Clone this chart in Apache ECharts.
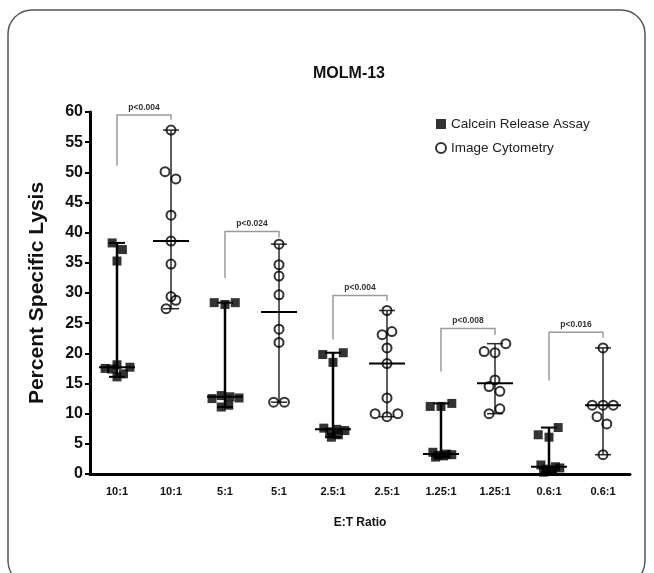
<!DOCTYPE html>
<html><head><meta charset="utf-8">
<script src="https://cdn.jsdelivr.net/npm/echarts@6/dist/echarts.min.js"></script>
<style>html,body{margin:0;padding:0;background:#fff}#c{width:654px;height:573px}</style>
</head><body><div id="c"></div>
<script>
const categories = ['10:1','10:1','5:1','5:1','2.5:1','2.5:1','1.25:1','1.25:1','0.6:1','0.6:1'];
const seriesNames = ['Calcein Release Assay','Image Cytometry'];
const yTicks = [0,5,10,15,20,25,30,35,40,45,50,55,60];

// Calcein Release Assay groups (categories 0,2,4,6,8)
const calceinValues = [
  [38.3, 37.2, 35.3, 18.1, 17.7, 17.5, 17.4, 16.6, 16.1],
  [28.4, 28.1, 28.4, 12.5, 13.0, 12.8, 12.6, 11.1, 11.4],
  [19.8, 20.1, 18.5, 7.6, 7.4, 7.2, 7.0, 6.5, 6.1],
  [11.2, 11.2, 11.7, 3.6, 3.3, 3.2, 3.1, 3.0, 2.8],
  [7.7, 6.5, 6.1, 1.5, 1.2, 1.0, 0.8, 0.6, 0.3]
];
const calceinJitter = [
  [-0.09, 0.1, 0, 0, 0.24, -0.22, -0.1, 0.12, 0],
  [-0.2, 0, 0.19, -0.24, -0.07, 0.09, 0.26, -0.07, 0.07],
  [-0.19, 0.19, 0, -0.17, 0.07, 0.22, -0.06, 0.1, -0.03],
  [-0.2, 0, 0.2, -0.15, 0.1, 0.2, -0.05, 0.05, -0.1],
  [0.17, -0.2, 0, -0.15, 0.12, 0.2, -0.05, 0.05, -0.1]
];
// Image Cytometry groups (categories 1,3,5,7,9)
const imageValues = [
  [57.0, 50.1, 48.9, 42.9, 38.6, 34.8, 29.4, 28.8, 27.4],
  [38.1, 34.7, 32.8, 29.7, 24.0, 21.8, 11.9, 11.9],
  [27.1, 23.6, 23.1, 20.9, 18.3, 12.6, 10.0, 9.5, 10.0],
  [21.6, 20.3, 20.1, 15.6, 14.5, 13.7, 10.8, 10.0],
  [20.9, 11.4, 11.4, 11.4, 9.5, 8.3, 3.2]
];
const imageJitter = [
  [0, -0.11, 0.09, 0, 0, 0, 0, 0.09, -0.09],
  [0, 0, 0, 0, 0, 0, -0.1, 0.1],
  [0, 0.09, -0.09, 0, 0, 0, -0.22, 0, 0.2],
  [0.2, -0.2, 0, 0, -0.11, 0.09, 0.09, -0.11],
  [0, -0.2, 0, 0.19, -0.11, 0.07, 0]
];
// significance brackets
const bracketLabels = ['p<0.004','p<0.024','p<0.004','p<0.008','p<0.016'];
const bracketLeftY = [51.1, 32.5, 22.3, 17.0, 15.5];
const bracketTopY = [59.5, 40.2, 29.6, 24.1, 23.5];
const bracketRightY = [58.7, 39.2, 28.7, 23.1, 22.6];

function median(a){const s=a.slice().sort((x,y)=>x-y);const n=s.length;return n%2?s[(n-1)/2]:(s[n/2-1]+s[n/2])/2;}

const calceinPts=[], imagePts=[], rangeData=[], bracketData=[];
calceinValues.forEach((g,i)=>{
  const cat=2*i;
  g.forEach((v,j)=>calceinPts.push([cat+calceinJitter[i][j], v]));
  rangeData.push([cat, Math.min(...g), median(g), Math.max(...g), 0]);
});
imageValues.forEach((g,i)=>{
  const cat=2*i+1;
  g.forEach((v,j)=>imagePts.push([cat+imageJitter[i][j], v]));
  rangeData.push([cat, Math.min(...g), median(g), Math.max(...g), 1]);
});
bracketLabels.forEach((l,i)=>bracketData.push([2*i, 2*i+1, bracketLeftY[i], bracketTopY[i], bracketRightY[i]]));

const FONT = 'Liberation Sans, Arial, sans-serif';
const chart = echarts.init(document.getElementById('c'), null, {renderer:'canvas'});
chart.setOption({
  animation:false,
  backgroundColor:'#fff',
  graphic:[
    {type:'rect', shape:{x:8,y:10,width:637,height:575,r:24}, style:{fill:'none',stroke:'#555',lineWidth:1.5}, z:-1},
    {type:'text', x:349, y:74, style:{text:'MOLM-13', fill:'#111', font:'bold 16px '+FONT, align:'center', verticalAlign:'middle'}}
  ],
  legend:{
    data:seriesNames, orient:'vertical', left:430, top:112, itemWidth:10, itemHeight:10, itemGap:10,
    textStyle:{fontSize:13.5, color:'#222', fontFamily:FONT}
  },
  grid:{left:90, right:24, top:112, bottom:99, containLabel:false},
  xAxis:[
    {type:'category', data:categories, boundaryGap:true,
     axisLine:{onZero:false, lineStyle:{color:'#000',width:3}},
     axisTick:{alignWithLabel:true, length:5, lineStyle:{color:'#000',width:2}},
     axisLabel:{color:'#111', fontWeight:'bold', fontSize:11, fontFamily:FONT, margin:12},
     name:'E:T Ratio', nameLocation:'middle', nameGap:43,
     nameTextStyle:{color:'#111', fontWeight:'bold', fontSize:12, fontFamily:FONT}},
    {type:'value', min:-0.5, max:9.5, show:false}
  ],
  yAxis:{type:'value', min:0, max:60, interval:5,
    axisLine:{show:true, onZero:false, lineStyle:{color:'#000',width:3}},
    axisTick:{show:true, length:5, lineStyle:{color:'#000',width:2}},
    splitLine:{show:false},
    axisLabel:{color:'#111', fontWeight:'bold', fontSize:16, fontFamily:FONT, margin:7,
      formatter:v=>yTicks.includes(v)?String(v):''},
    name:'Percent Specific Lysis', nameLocation:'middle', nameGap:42, nameRotate:90,
    nameTextStyle:{color:'#111', fontWeight:'bold', fontSize:21, fontFamily:FONT}},
  series:[
    {type:'custom', xAxisIndex:0, yAxisIndex:0, z:2, silent:true, data:rangeData,
     encode:{x:0, y:[1,2,3]},
     renderItem:(params, api)=>{
       const cat=api.value(0), kind=api.value(4);
       const pMin=api.coord([cat, api.value(1)]), pMed=api.coord([cat, api.value(2)]), pMax=api.coord([cat, api.value(3)]);
       const col = kind===0 ? '#000' : '#2a2a2a';
       const vw = kind===0 ? 2.5 : 1.5;
       const cw = kind===0 ? 2 : 1.5;
       return {type:'group', children:[
         {type:'line', shape:{x1:pMin[0],y1:pMin[1],x2:pMax[0],y2:pMax[1]}, style:{stroke:col,lineWidth:vw}},
         {type:'line', shape:{x1:pMin[0]-8,y1:pMin[1],x2:pMin[0]+8,y2:pMin[1]}, style:{stroke:col,lineWidth:cw}},
         {type:'line', shape:{x1:pMax[0]-8,y1:pMax[1],x2:pMax[0]+8,y2:pMax[1]}, style:{stroke:col,lineWidth:cw}},
         {type:'line', shape:{x1:pMed[0]-18,y1:pMed[1],x2:pMed[0]+18,y2:pMed[1]}, style:{stroke:'#000',lineWidth:2}}
       ]};
     }},
    {type:'custom', xAxisIndex:0, yAxisIndex:0, z:2, silent:true, data:bracketData,
     encode:{x:0, y:[2,3,4]},
     renderItem:(params, api)=>{
       const l=api.value(0), r=api.value(1);
       const a=api.coord([l, api.value(2)]), b=api.coord([l, api.value(3)]);
       const c=api.coord([r, api.value(3)]), d=api.coord([r, api.value(4)]);
       return {type:'group', children:[
         {type:'polyline', shape:{points:[a,b,c,d]}, style:{stroke:'#9a9a9a', lineWidth:1.5, fill:'none'}},
         {type:'text', x:(b[0]+c[0])/2, y:b[1]-3, style:{text:bracketLabels[params.dataIndex], fill:'#333', font:'bold 8.5px '+FONT, align:'center', verticalAlign:'bottom'}}
       ]};
     }},
    {name:seriesNames[0], type:'scatter', xAxisIndex:1, yAxisIndex:0, z:3, data:calceinPts,
     symbol:'rect', symbolSize:9, itemStyle:{color:'#000'}},
    {name:seriesNames[1], type:'scatter', xAxisIndex:1, yAxisIndex:0, z:3, data:imagePts,
     symbol:'circle', symbolSize:9, itemStyle:{color:'rgba(255,255,255,0)', borderColor:'#000', borderWidth:2}}
  ]
});
</script></body></html>
